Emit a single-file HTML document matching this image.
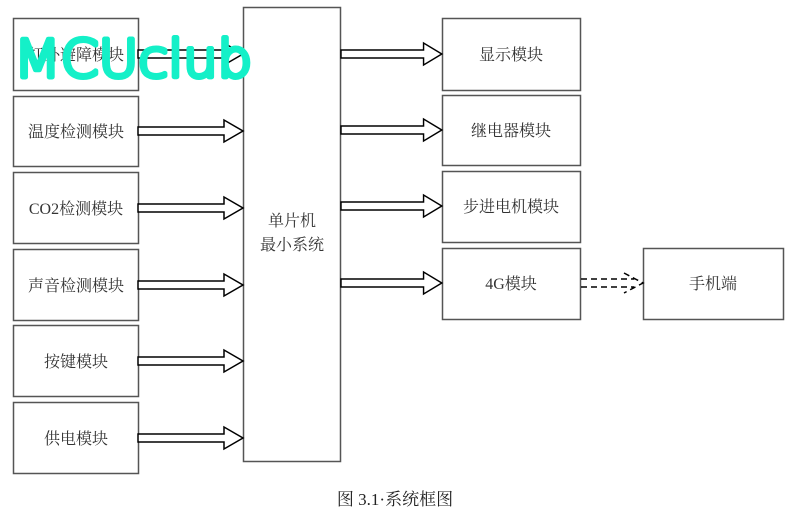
<!DOCTYPE html>
<html><head><meta charset="utf-8"><style>
body{margin:0;background:#fff;width:790px;height:516px;overflow:hidden}
svg text{font-family:"Liberation Serif","Noto Serif CJK SC",serif;font-size:16px;fill:#333}
</style></head><body>
<svg width="790" height="516" viewBox="0 0 790 516" xmlns="http://www.w3.org/2000/svg">
<defs>
<g id="la"><path d="M0,-4 H86 V-11 L105,0 L86,11 V4 H0 Z" fill="#fff" stroke="#000" stroke-width="1.5"/></g>
</defs>
<g fill="#fff" stroke="#555" stroke-width="1.5">
<rect x="13.5" y="18.5" width="125" height="72"/>
<rect x="13.5" y="96.5" width="125" height="70"/>
<rect x="13.5" y="172.5" width="125" height="71"/>
<rect x="13.5" y="249.5" width="125" height="71"/>
<rect x="13.5" y="325.5" width="125" height="71"/>
<rect x="13.5" y="402.5" width="125" height="71"/>
<rect x="243.5" y="7.5" width="97" height="454"/>
<rect x="442.5" y="18.5" width="138" height="72"/>
<rect x="442.5" y="95.5" width="138" height="70"/>
<rect x="442.5" y="171.5" width="138" height="71"/>
<rect x="442.5" y="248.5" width="138" height="71"/>
<rect x="643.5" y="248.5" width="140" height="71"/>
</g>
<use href="#la" transform="translate(138,54)"/>
<use href="#la" transform="translate(138,131)"/>
<use href="#la" transform="translate(138,208)"/>
<use href="#la" transform="translate(138,285)"/>
<use href="#la" transform="translate(138,361)"/>
<use href="#la" transform="translate(138,438)"/>
<use href="#la" transform="translate(341,54) scale(0.96,1)"/>
<use href="#la" transform="translate(341,130) scale(0.96,1)"/>
<use href="#la" transform="translate(341,206) scale(0.96,1)"/>
<use href="#la" transform="translate(341,283) scale(0.96,1)"/>
<path d="M581,279 H634 M581,287 H634 M624,273 L643,283 L624,293" fill="none" stroke="#000" stroke-width="1.5" stroke-dasharray="6,4"/>
<g text-anchor="middle">
<text x="76" y="60">红外避障模块</text>
<text x="76" y="137">温度检测模块</text>
<text x="76" y="214">CO2检测模块</text>
<text x="76" y="291">声音检测模块</text>
<text x="76" y="367">按键模块</text>
<text x="76" y="444">供电模块</text>
<text x="292" y="226">单片机</text>
<text x="292" y="250">最小系统</text>
<text x="511" y="60">显示模块</text>
<text x="511" y="136">继电器模块</text>
<text x="511" y="212">步进电机模块</text>
<text x="511" y="289">4G模块</text>
<text x="713" y="289">手机端</text>
<text x="395" y="505" style="font-size:17px;fill:#222">图 3.1·系统框图</text>
</g>
<text x="14" y="77" style="font-family:'DejaVu Sans',sans-serif;font-weight:200;font-size:52px;fill:none;stroke:#14f0c8;stroke-width:5;stroke-linejoin:round;stroke-linecap:round" textLength="238" lengthAdjust="spacingAndGlyphs">MCUclub</text>
</svg>
</body></html>
